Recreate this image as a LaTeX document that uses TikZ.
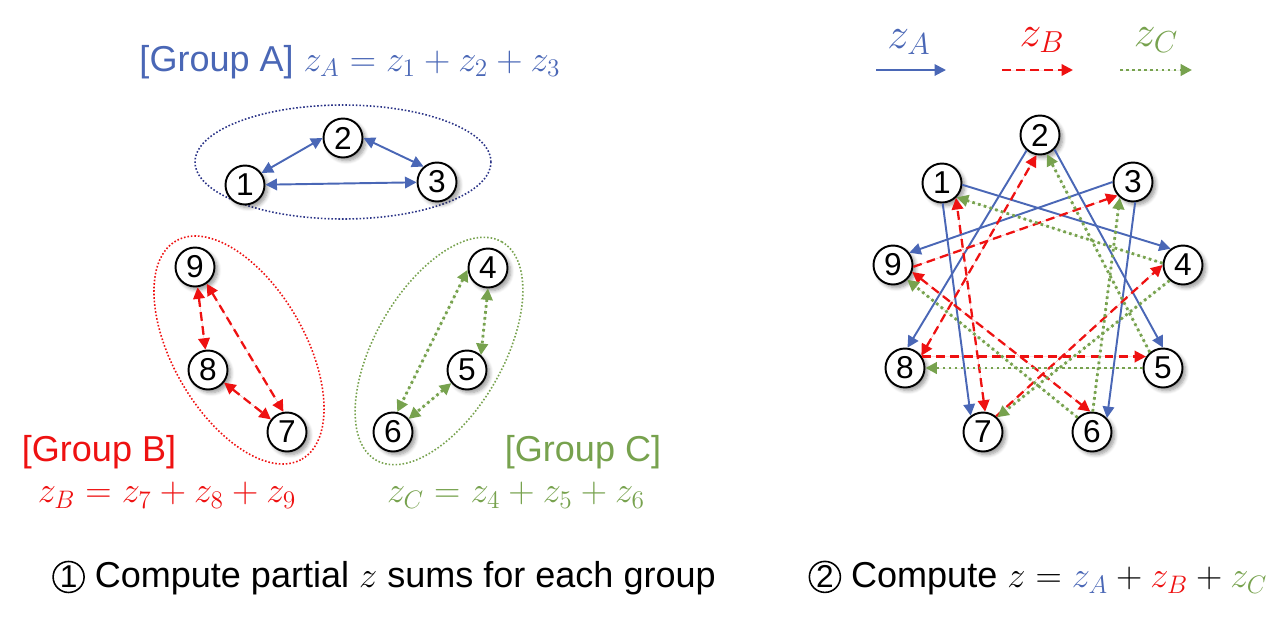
\documentclass[tikz,border=0pt]{standalone}
\usepackage{amsmath}
\usepackage[no-math]{fontspec}
\setmainfont{Liberation Sans}
\usepackage{xcolor}
\usetikzlibrary{shapes.geometric, arrows.meta, positioning, calc, shadows.blur}
\definecolor{cazul}{HTML}{4A67B6}
\definecolor{crojo}{HTML}{EE1111}
\definecolor{cverde}{HTML}{77A24E}
\definecolor{cmarino}{HTML}{2B3487}
\newcommand{\circulo}[1]{\tikz[baseline=(c.base)]\node[circle, draw, line width=0.9pt, inner sep=0pt, minimum size=0.62cm, font=\fontsize{18}{18}\selectfont] (c) {#1};}
\tikzset{
  nodo/.style={circle, draw=black, line width=1.1pt, fill=white, minimum size=0.78cm, inner sep=0pt,
               font=\fontsize{18}{18}\selectfont,
               blur shadow={shadow xshift=1.8pt, shadow yshift=-1.8pt, shadow blur steps=6}},
  texto/.style={inner sep=1pt, font=\fontsize{20.5}{24}\selectfont},
  >={Triangle[length=2.3mm, width=2.3mm]},
  lineaA/.style={line width=1.1pt, draw=cazul, fill=cazul},
  lineaB/.style={line width=1.3pt, draw=crojo, fill=crojo, dash pattern=on 5pt off 3pt},
  lineaC/.style={line width=1.6pt, draw=cverde, fill=cverde, dash pattern=on 1.5pt off 1.9pt},
  flechaA/.style={lineaA, ->},
  flechaB/.style={lineaB, ->},
  flechaC/.style={lineaC, ->},
  grupo/.style={draw=#1, line width=0.9pt, dash pattern=on 0.9pt off 1.1pt},
}

\begin{document}
\begin{tikzpicture}[x=0.02cm, y=-0.02cm]
        \useasboundingbox (0,0) rectangle (1286,620);

        \draw[grupo=cmarino] (343,162) ellipse [x radius=2.96cm, y radius=1.14cm];
        \draw[grupo=crojo, rotate around={-60:(239,350)}] (239,350) ellipse [x radius=2.52cm, y radius=1.32cm];
        \draw[grupo=cverde, rotate around={60:(439,351)}] (439,351) ellipse [x radius=2.52cm, y radius=1.28cm];

        \node[nodo] (p1) at (245,185) {1};
        \node[nodo] (p2) at (343,138) {2};
        \node[nodo] (p3) at (437,182) {3};
        \node[nodo] (p4) at (488,268) {4};
        \node[nodo] (p5) at (467,370) {5};
        \node[nodo] (p6) at (393,432) {6};
        \node[nodo] (p7) at (287,432) {7};
        \node[nodo] (p8) at (208,370) {8};
        \node[nodo] (p9) at (195,267) {9};

        \draw[lineaA, <->] (p1.36) -- (p2.180);
        \draw[lineaA, <->] (p2.0) -- (p3.131);
        \draw[lineaA, <->] (p1) -- (p3);
        \draw[lineaB, <->] (p9) -- (p8);
        \draw[lineaB, <->] (p9.-55) -- (p7.100);
        \draw[lineaB, <->] (p8) -- (p7);
        \draw[lineaC, <->] (p4.-90) -- (p5.47);
        \draw[lineaC, <->] (p4.185) -- (p6.78);
        \draw[lineaC, <->] (p5) -- (p6);

        \node[texto, text=cazul] (tA) at (350,62) {[Group A] $z_A = z_1 + z_2 + z_3$};
        \node[texto, text=crojo] (tB) at (99,452) {[Group B]};
        \node[texto, text=crojo] (fB) at (167,495) {$z_B = z_7 + z_8 + z_9$};
        \node[texto, text=cverde] (tC) at (583,452) {[Group C]};
        \node[texto, text=cverde] (fC) at (516,495) {$z_C = z_4 + z_5 + z_6$};

        \node[nodo] (t1) at (942,183) {1};
        \node[nodo] (t2) at (1040,135) {2};
        \node[nodo] (t3) at (1133,182) {3};
        \node[nodo] (t4) at (1183,265) {4};
        \node[nodo] (t5) at (1163,368) {5};
        \node[nodo] (t6) at (1092,432) {6};
        \node[nodo] (t7) at (983,432) {7};
        \node[nodo] (t8) at (905,368) {8};
        \node[nodo] (t9) at (893,265) {9};

        \draw[flechaA] (t1.-5) -- (t4.127);
        \draw[flechaA] (t1.-88) -- (t7.127);
        \draw[flechaA] (t2.-131) -- (t8.83);
        \draw[flechaA] (t2.-45) -- (t5.90);
        \draw[flechaA] (t3.180) -- (t9.37);
        \draw[flechaA] (t3.-84) -- (t6.43);

        \draw[flechaB] (t9.-5) -- (t3.-139);
        \draw[flechaB, <->] (t9.-20) -- (t6.95);
        \draw[flechaB, <->] (t8.37) -- (t2.-100);
        \draw[flechaB] (t8.34) -- (t5.146);
        \draw[flechaB, <->] (t7.84) -- (t1.-47);
        \draw[flechaB] (t7.50) -- (t4.180);

        \draw[flechaC] (t4.175) -- (t1.-44);
        \draw[flechaC] (t4.-131) -- (t7.46);
        \draw[flechaC] (t5.180) -- (t8.0);
        \draw[flechaC] (t5.130) -- (t2.-70);
        \draw[flechaC] (t6.88) -- (t3.-130);
        \draw[flechaC] (t6.135) -- (t9.-46);

        \coordinate (la0) at (876,70);
        \coordinate (la1) at (946,70);
        \coordinate (lb0) at (1002,70);
        \coordinate (lb1) at (1073,70);
        \coordinate (lc0) at (1120,70);
        \coordinate (lc1) at (1192,70);
        \draw[flechaA] (la0) -- (la1);
        \draw[flechaB] (lb0) -- (lb1);
        \draw[flechaC] (lc0) -- (lc1);
        \node[texto, text=cazul, font=\fontsize{24}{28}\selectfont] (ea) at (909,42) {$z_A$};
        \node[texto, text=crojo, font=\fontsize{24}{28}\selectfont] (eb) at (1042,40) {$z_B$};
        \node[texto, text=cverde, font=\fontsize{24}{28}\selectfont] (ec) at (1156,40) {$z_C$};

        \node[texto] (paso1) at (384,578) {\circulo{1} Compute partial $z$ sums for each group};
        \node[texto] (paso2) at (1038,578) {\circulo{2} Compute $z = {\color{cazul}z_A} + {\color{crojo}z_B} + {\color{cverde}z_C}$};
    \end{tikzpicture}
\end{document}
